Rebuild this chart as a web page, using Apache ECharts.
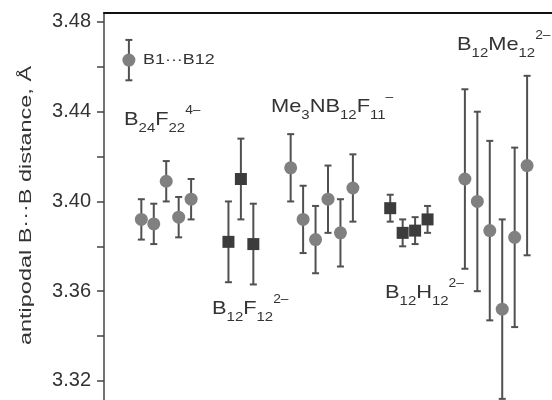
<!DOCTYPE html>
<html>
<head>
<meta charset="utf-8">
<script src="https://cdn.jsdelivr.net/npm/echarts@6/dist/echarts.min.js"></script>
<style>
  html, body { margin: 0; padding: 0; background: #fff; }
  #chart { width: 552px; height: 400px; }
</style>
</head>
<body>
<div id="chart"></div>
<script>
// B1···B12 distances, Å (value ± error), x = slot position along the plot
const keyX = [2];
const keyVal = [3.463];
const keyErr = [0.009];

const b24F22X = [3, 4, 5, 6, 7];
const b24F22Val = [3.392, 3.390, 3.409, 3.393, 3.401];
const b24F22Err = [0.009, 0.009, 0.009, 0.009, 0.009];

const b12F12X = [10, 11, 12];
const b12F12Val = [3.382, 3.410, 3.381];
const b12F12Err = [0.018, 0.018, 0.018];

const me3nX = [15, 16, 17, 18, 19, 20];
const me3nVal = [3.415, 3.392, 3.383, 3.401, 3.386, 3.406];
const me3nErr = [0.015, 0.015, 0.015, 0.015, 0.015, 0.015];

const b12H12X = [23, 24, 25, 26];
const b12H12Val = [3.397, 3.386, 3.387, 3.392];
const b12H12Err = [0.006, 0.006, 0.006, 0.006];

const b12Me12X = [29, 30, 31, 32, 33, 34];
const b12Me12Val = [3.410, 3.400, 3.387, 3.352, 3.384, 3.416];
const b12Me12Err = [0.04, 0.04, 0.04, 0.04, 0.04, 0.04];

const yTicks = [3.32, 3.34, 3.36, 3.38, 3.40, 3.42, 3.44, 3.46, 3.48];
const yLabels = [3.32, 3.36, 3.40, 3.44, 3.48];
const yTitle = 'antipodal B\u00b7\u00b7\u00b7B distance, \u00c5';
const keyText = 'B1\u00b7\u00b7\u00b7B12';

const chart = echarts.init(document.getElementById('chart'));
const font = 'Liberation Sans, Arial, Helvetica, sans-serif';

const zip = (xs, vs, es) => xs.map((x, i) => [x, vs[i], es[i]]);
const circles = [].concat(
  zip(keyX, keyVal, keyErr),
  zip(b24F22X, b24F22Val, b24F22Err),
  zip(me3nX, me3nVal, me3nErr),
  zip(b12Me12X, b12Me12Val, b12Me12Err)
);
const squares = [].concat(
  zip(b12F12X, b12F12Val, b12F12Err),
  zip(b12H12X, b12H12Val, b12H12Err)
);

function errorBar(params, api) {
  const x = api.value(0), v = api.value(1), e = api.value(2);
  const top = api.coord([x, v + e]);
  const bot = api.coord([x, v - e]);
  const hw = 3.5;
  const st = { stroke: '#505050', lineWidth: 2 };
  return {
    type: 'group',
    children: [
      { type: 'line', shape: { x1: top[0], y1: top[1], x2: bot[0], y2: bot[1] }, style: st },
      { type: 'line', shape: { x1: top[0] - hw, y1: top[1], x2: top[0] + hw, y2: top[1] }, style: st },
      { type: 'line', shape: { x1: bot[0] - hw, y1: bot[1], x2: bot[0] + hw, y2: bot[1] }, style: st }
    ]
  };
}

// rich text for chemical formulas (n = normal, b = subscript, p = superscript)
const rich = {
  n: { fontSize: 19, lineHeight: 30, verticalAlign: 'middle', fontFamily: font, fill: '#333' },
  b: { fontSize: 13, lineHeight: 10, verticalAlign: 'bottom', fontFamily: font, fill: '#333' },
  p: { fontSize: 12, lineHeight: 17, verticalAlign: 'top', fontFamily: font, fill: '#333' }
};
function formula(x, y, text) {
  return {
    type: 'text', x: x, y: y, scaleX: 1.15, z: 10,
    style: { text: text, rich: rich, fontFamily: font, fill: '#333' }
  };
}

const option = {
  animation: false,
  grid: { left: 104, top: 13, width: 464.4, height: 387 },
  xAxis: {
    type: 'value',
    position: 'top',
    min: 0,
    max: 36,
    axisLine: { show: true, lineStyle: { color: '#111', width: 2 } },
    axisTick: { show: false },
    axisLabel: { show: false },
    splitLine: { show: false }
  },
  yAxis: {
    type: 'value',
    min: 3.3115,
    max: 3.484,
    axisLine: { show: true, lineStyle: { color: '#444', width: 1.5 } },
    axisTick: { show: true, customValues: yTicks, length: 7, lineStyle: { color: '#444', width: 1.5 } },
    axisLabel: {
      customValues: yLabels,
      formatter: v => v.toFixed(2),
      margin: 13,
      fontSize: 20,
      color: '#333',
      fontFamily: font
    },
    splitLine: { show: false }
  },
  series: [
    {
      type: 'custom',
      renderItem: errorBar,
      data: circles.concat(squares),
      encode: { x: 0, y: 1 },
      z: 2
    },
    {
      type: 'scatter',
      symbol: 'circle',
      symbolSize: 13,
      itemStyle: { color: '#808080', opacity: 1 },
      data: circles,
      z: 3
    },
    {
      type: 'scatter',
      symbol: 'rect',
      symbolSize: 12,
      itemStyle: { color: '#3c3c3c', opacity: 1 },
      data: squares,
      z: 3
    }
  ],
  graphic: [
    {
      type: 'text', x: 26, y: 205.5, rotation: Math.PI / 2, scaleX: 1.38,
      style: { text: yTitle, fontSize: 17, fontFamily: font, fill: '#333', align: 'center', verticalAlign: 'middle' }
    },
    {
      type: 'text', x: 143, y: 60, scaleX: 1.28,
      style: { text: keyText, fontSize: 14, fontFamily: font, fill: '#333', verticalAlign: 'middle' }
    },
    formula(124, 105, '{n|B}{b|24}{n|F}{b|22}{p|4\u2013}'),
    formula(271, 92, '{n|Me}{b|3}{n|NB}{b|12}{n|F}{b|11}{p|\u2013}'),
    formula(212, 294, '{n|B}{b|12}{n|F}{b|12}{p|2\u2013}'),
    formula(385, 278, '{n|B}{b|12}{n|H}{b|12}{p|2\u2013}'),
    formula(457, 30, '{n|B}{b|12}{n|Me}{b|12}{p|2\u2013}')
  ]
};
chart.setOption(option);
</script>
</body>
</html>
